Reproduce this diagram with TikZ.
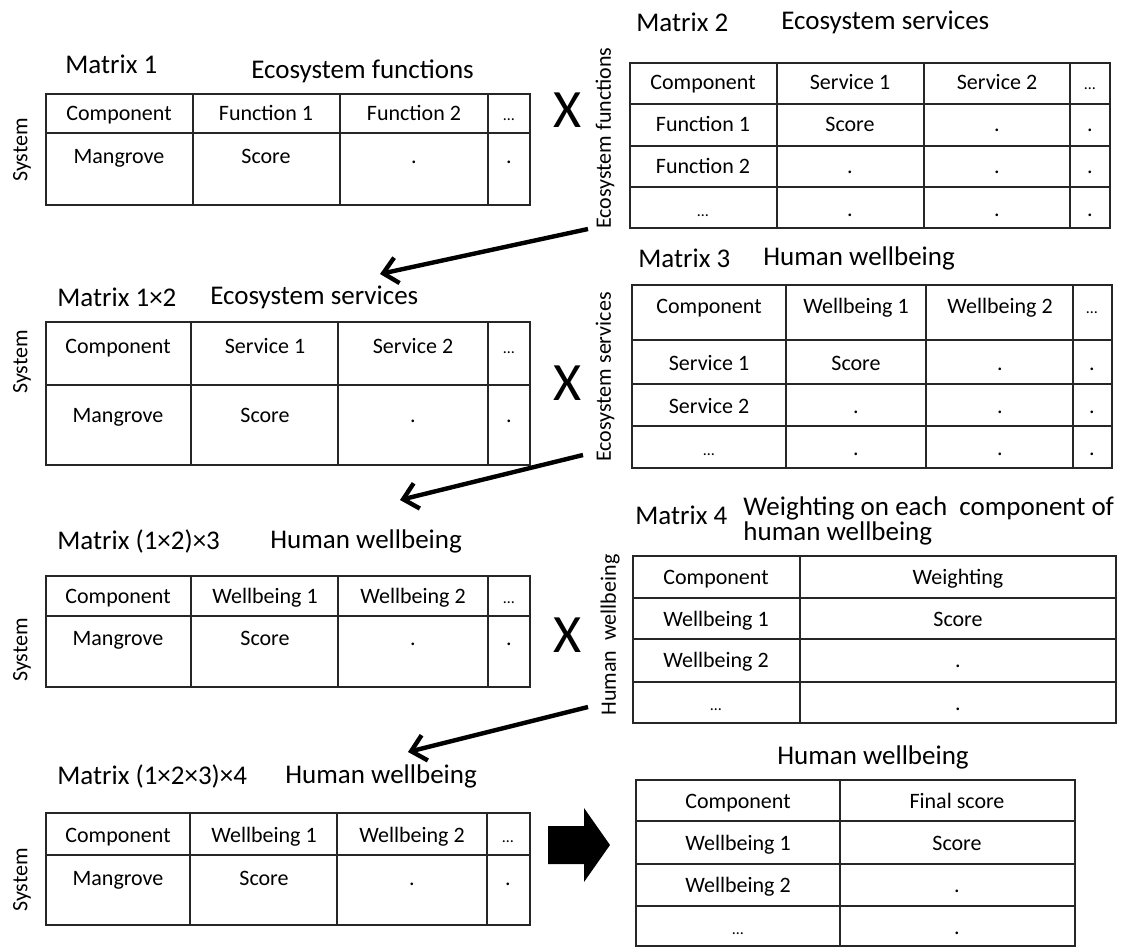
\documentclass[tikz,border=0pt]{standalone}
\usepackage{fontspec}
\setmainfont{Carlito}
\usetikzlibrary{arrows.meta}
\newcommand{\moredots}{{\fontsize{8}{9}\selectfont …}}

\begin{document}
\begin{tikzpicture}[x=0.5pt,y=-0.5pt,
    grid/.style={draw=black!85,line width=0.8pt},
    cell/.style={anchor=base,inner sep=0pt,font=\fontsize{11}{13}\selectfont},
    title/.style={anchor=west,inner sep=0pt,font=\fontsize{13.5}{16}\selectfont},
    side/.style={rotate=90,inner sep=0pt,font=\fontsize{11}{13}\selectfont},
    times/.style={inner sep=0pt,font=\fontsize{27}{30}\selectfont},
    link/.style={line width=2.2pt,-{Straight Barb[length=7pt,width=13pt]}}]
  \useasboundingbox (0,0) rectangle (1126,947);

  \node[title] (t1) at (65,64) {Matrix 1};
  \node[title] (t1b) at (251,71) {Ecosystem functions};
  \node[side] (s1) at (22,150) {System};
  \draw[grid] (46,94) rectangle (530,205) (46,133) -- (530,133);
  \foreach \x in {193,340,488} \draw[grid] (\x,94) -- (\x,205);
  \foreach \x/\t [count=\i] in {119/Component,266/Function 1,414/Function 2,509/\moredots}
    \node[cell] (m1h\i) at (\x,121) {\t};
  \foreach \x/\t [count=\i] in {119/Mangrove,266/Score,414/.,509/.}
    \node[cell] (m1r\i) at (\x,164) {\t};
  \node[times] (x1) at (568,110) {X};

  \node[title] (t2) at (636,22) {Matrix 2};
  \node[title] (t2b) at (781,22) {Ecosystem services};
  \node[side] (s2) at (605,138) {Ecosystem functions};
  \draw[grid] (630,63) rectangle (1110,228);
  \foreach \y in {104,146,187} \draw[grid] (630,\y) -- (1110,\y);
  \foreach \x in {777,924,1070} \draw[grid] (\x,63) -- (\x,228);
  \foreach \x/\t [count=\i] in {703/Component,850/Service 1,997/Service 2,1090/\moredots}
    \node[cell] (m2h\i) at (\x,90) {\t};
  \foreach \y/\a/\b [count=\j] in {132/Function 1/Score,174/Function 2/.,217/\moredots/.}{
    \node[cell] (m2r\j-a) at (703,\y) {\a};
    \node[cell] (m2r\j-b) at (850,\y) {\b};
    \node[cell] (m2r\j-c) at (997,\y) {.};
    \node[cell] (m2r\j-d) at (1090,\y) {.};
  }

  \coordinate (a1s) at (588,229);
  \coordinate (a1e) at (380,274);
  \draw[link] (a1s) -- (a1e);

  \node[title] (t3) at (57,297) {Matrix 1×2};
  \node[title] (t3b) at (210,297) {Ecosystem services};
  \node[side] (s3) at (22,362) {System};
  \draw[grid] (46,322) rectangle (530,465) (46,385) -- (530,385);
  \foreach \x in {191,338,488} \draw[grid] (\x,322) -- (\x,465);
  \foreach \x/\t [count=\i] in {118/Component,265/Service 1,413/Service 2,509/\moredots}
    \node[cell] (m3h\i) at (\x,353) {\t};
  \foreach \x/\t [count=\i] in {118/Mangrove,265/Score,413/.,509/.}
    \node[cell] (m3r\i) at (\x,422) {\t};
  \node[times] (x2) at (568,383) {X};

  \node[title] (t4) at (638,258) {Matrix 3};
  \node[title] (t4b) at (763,258) {Human wellbeing};
  \node[side] (s4) at (605,377) {Ecosystem services};
  \draw[grid] (632,285) rectangle (1112,468);
  \foreach \y in {340,384,426} \draw[grid] (632,\y) -- (1112,\y);
  \foreach \x in {786,926,1073} \draw[grid] (\x,285) -- (\x,468);
  \foreach \x/\t [count=\i] in {709/Component,856/Wellbeing 1,1000/Wellbeing 2,1092/\moredots}
    \node[cell] (m4h\i) at (\x,314) {\t};
  \foreach \y/\a/\b [count=\j] in {370/Service 1/Score,413/Service 2/.,455/\moredots/.}{
    \node[cell] (m4r\j-a) at (709,\y) {\a};
    \node[cell] (m4r\j-b) at (856,\y) {\b};
    \node[cell] (m4r\j-c) at (1000,\y) {.};
    \node[cell] (m4r\j-d) at (1092,\y) {.};
  }

  \coordinate (a2s) at (583,455);
  \coordinate (a2e) at (400,500);
  \draw[link] (a2s) -- (a2e);

  \node[title] (t5) at (57,541) {Matrix (1×2)×3};
  \node[title] (t5b) at (270,541) {Human wellbeing};
  \node[side] (s5) at (22,650) {System};
  \draw[grid] (46,576) rectangle (530,687) (46,616) -- (530,616);
  \foreach \x in {191,338,488} \draw[grid] (\x,576) -- (\x,687);
  \foreach \x/\t [count=\i] in {118/Component,265/Wellbeing 1,413/Wellbeing 2,509/\moredots}
    \node[cell] (m5h\i) at (\x,603) {\t};
  \foreach \x/\t [count=\i] in {118/Mangrove,265/Score,413/.,509/.}
    \node[cell] (m5r\i) at (\x,645) {\t};
  \node[times] (x3) at (568,635) {X};

  \node[title] (t6) at (635,515) {Matrix 4};
  \node[title,align=left,font=\fontsize{13.5}{11.5}\selectfont] (t6b) at (743,521)
    {Weighting on each\ \ component of\\human wellbeing};
  \node[side] (s6) at (610,635) {Human\ \ wellbeing};
  \draw[grid] (633,556) rectangle (1116,723) (800,556) -- (800,723);
  \foreach \y in {598,639,682} \draw[grid] (633,\y) -- (1116,\y);
  \node[cell] (m6h1) at (716,584) {Component};
  \node[cell] (m6h2) at (958,584) {Weighting};
  \foreach \y/\a/\b [count=\j] in {626/Wellbeing 1/Score,667/Wellbeing 2/.,710/\moredots/.}{
    \node[cell] (m6r\j-a) at (716,\y) {\a};
    \node[cell] (m6r\j-b) at (958,\y) {\b};
  }

  \coordinate (a3s) at (588,707);
  \coordinate (a3e) at (408,752);
  \draw[link] (a3s) -- (a3e);

  \node[title] (t7) at (57,776) {Matrix (1×2×3)×4};
  \node[title] (t7b) at (285,776) {Human wellbeing};
  \node[side] (s7) at (22,880) {System};
  \draw[grid] (46,813) rectangle (530,925) (46,855) -- (530,855);
  \foreach \x in {190,337,487} \draw[grid] (\x,813) -- (\x,925);
  \foreach \x/\t [count=\i] in {118/Component,264/Wellbeing 1,412/Wellbeing 2,508/\moredots}
    \node[cell] (m7h\i) at (\x,842) {\t};
  \foreach \x/\t [count=\i] in {118/Mangrove,264/Score,412/.,508/.}
    \node[cell] (m7r\i) at (\x,885) {\t};
  \fill (548,826) -- (584,826) -- (584,808) -- (610,845) -- (584,882) -- (584,864) -- (548,864) -- cycle;

  \node[title,anchor=center] (t8) at (873,757) {Human wellbeing};
  \draw[grid] (636,780) rectangle (1075,946) (840,780) -- (840,946);
  \foreach \y in {821,864,906} \draw[grid] (636,\y) -- (1075,\y);
  \node[cell] (m8h1) at (738,808) {Component};
  \node[cell] (m8h2) at (957,808) {Final score};
  \foreach \y/\a/\b [count=\j] in {850/Wellbeing 1/Score,892/Wellbeing 2/.,934/\moredots/.}{
    \node[cell] (m8r\j-a) at (738,\y) {\a};
    \node[cell] (m8r\j-b) at (957,\y) {\b};
  }
\end{tikzpicture}
\end{document}
